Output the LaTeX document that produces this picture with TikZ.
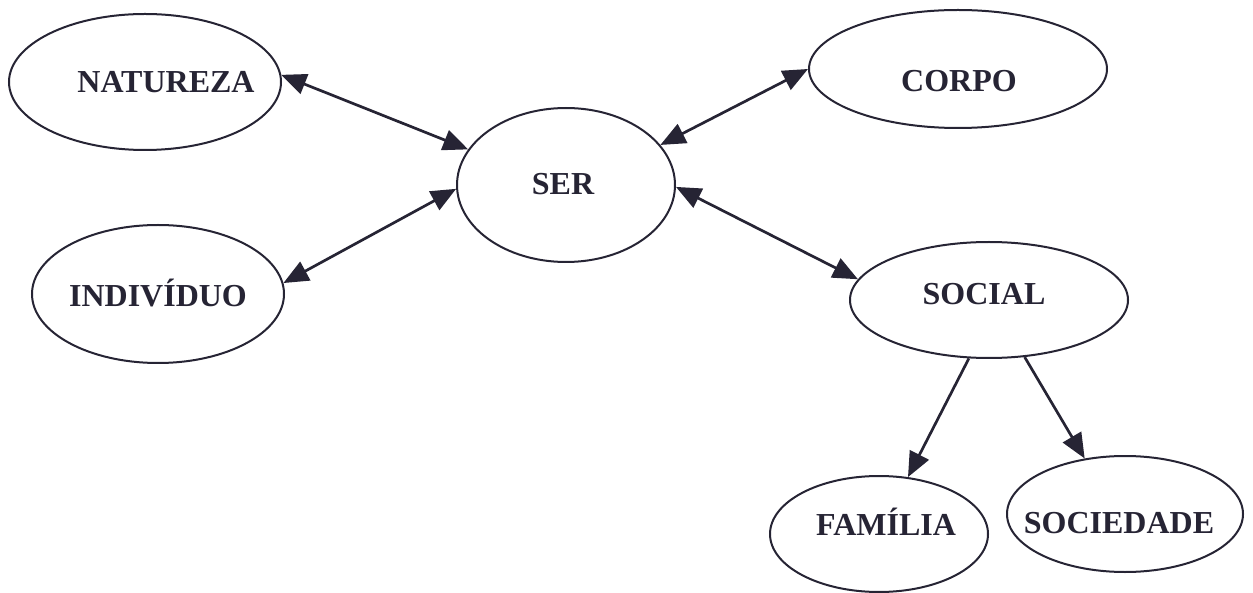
\documentclass[tikz,border=0pt]{standalone}
\usepackage{fontspec}
\setmainfont{Liberation Serif}
\usetikzlibrary{shapes.geometric,arrows.meta}
\definecolor{ink}{RGB}{38,36,52}
\begin{document}
\begin{tikzpicture}[x=1pt,y=-1pt,
  oval/.style={draw=ink,line width=2pt,ellipse,inner sep=0pt},
  lbl/.style={anchor=base,text=ink,font=\fontsize{32}{36}\selectfont\bfseries,inner sep=0pt},
  link/.style={draw=ink,line width=2.7pt,-{Triangle[length=25pt,width=21pt]}},
  bilink/.style={draw=ink,line width=2.7pt,{Triangle[length=25pt,width=21pt]}-{Triangle[length=25pt,width=21pt]}}]
\useasboundingbox (0,0) rectangle (1253,593);
% ellipses
\node[oval,minimum width=272pt,minimum height=136pt] (nat) at (145,82) {};
\node[oval,minimum width=218pt,minimum height=154pt] (ser) at (566,185) {};
\node[oval,minimum width=298pt,minimum height=118pt] (cor) at (958,69) {};
\node[oval,minimum width=252pt,minimum height=138pt] (ind) at (158,294) {};
\node[oval,minimum width=278pt,minimum height=116pt] (soc) at (989,300) {};
\node[oval,minimum width=218pt,minimum height=116pt] (fam) at (879,534) {};
\node[oval,minimum width=236pt,minimum height=116pt] (sde) at (1125,514) {};
% labels
\node[lbl] (natL) at (166,93) {NATUREZA};
\node[lbl] (serL) at (563,195) {SER};
\node[lbl] (corL) at (959,92) {CORPO};
\node[lbl] (indL) at (158,307) {INDIVÍDUO};
\node[lbl] (socL) at (984,305) {SOCIAL};
\node[lbl] (famL) at (886,535) {FAMÍLIA};
\node[lbl] (sdeL) at (1119,533) {SOCIEDADE};
% connectors
\draw[bilink] (nat.3) -- (ser.160);
\draw[bilink] (ind.5) -- (ser.182);
\draw[bilink] (cor.180) -- (ser.23);
\draw[bilink] (ser.359) -- (soc.171);
\draw[link] (soc.251) -- (fam.63);
\draw[link] (soc.302) -- (sde.126);
\end{tikzpicture}
\end{document}
